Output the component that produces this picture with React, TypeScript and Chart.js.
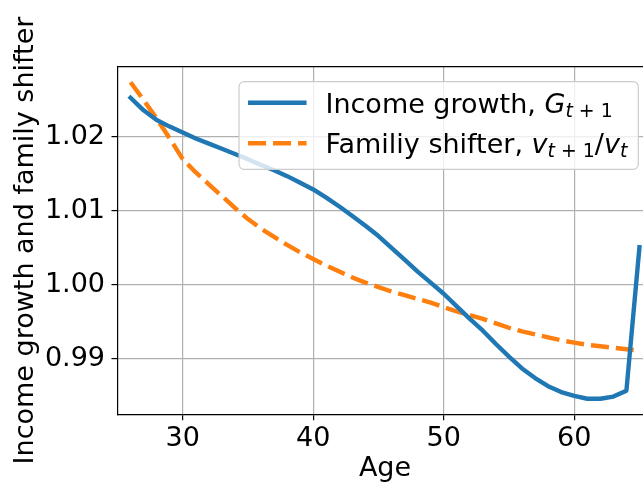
import React, { useEffect, useRef } from 'react';
import { Chart, registerables } from 'chart.js';

Chart.register(...registerables);

// ---- data ----
const ages = [
  26, 27, 28, 29, 30, 31, 32, 33, 34, 35,
  36, 37, 38, 39, 40, 41, 42, 43, 44, 45,
  46, 47, 48, 49, 50, 51, 52, 53, 54, 55,
  56, 57, 58, 59, 60, 61, 62, 63, 64, 65,
];
const incomeGrowth = [
  1.0253, 1.0236, 1.0223, 1.0214, 1.0206, 1.0198, 1.0191, 1.0184, 1.0177, 1.0170,
  1.0162, 1.0155, 1.0147, 1.0138, 1.0129, 1.0118, 1.0106, 1.0093, 1.0080, 1.0066,
  1.0050, 1.0034, 1.0018, 1.0003, 0.9988, 0.9971, 0.9954, 0.9938, 0.9920, 0.9903,
  0.9887, 0.9874, 0.9863, 0.9855, 0.9850, 0.9846, 0.9846, 0.9849, 0.9857, 1.0051,
];
const familyShifter = [
  1.0274, 1.0250, 1.0225, 1.0198, 1.0170, 1.0152, 1.0136, 1.0120, 1.0104, 1.0089,
  1.0076, 1.0065, 1.0054, 1.0044, 1.0035, 1.0026, 1.0018, 1.0010, 1.0003, 0.9997,
  0.9991, 0.9986, 0.9981, 0.9976, 0.9970, 0.9964, 0.9959, 0.9954, 0.9948, 0.9942,
  0.9937, 0.9933, 0.9929, 0.9925, 0.9922, 0.9919, 0.9917, 0.9915, 0.9913, 0.9911,
];
const xTicks = [30, 40, 50, 60];
const yTicks = [0.99, 1.0, 1.01, 1.02];
const xRange = [25, 66];
const yRange = [0.9825, 1.0295];
const xTitle = 'Age';
const yTitle = 'Income growth and family shifter';

type Part = [string, 'n' | 'i', boolean];
const incomeLabel: Part[] = [
  ['Income growth, ', 'n', false],
  ['G', 'i', false],
  ['t', 'i', true],
  [' + 1', 'n', true],
];
const familyLabel: Part[] = [
  ['Familiy shifter, ', 'n', false],
  ['v', 'i', false],
  ['t', 'i', true],
  [' + 1', 'n', true],
  ['/', 'n', false],
  ['v', 'i', false],
  ['t', 'i', true],
];

const BLUE = '#1f77b4';
const ORANGE = '#ff7f0e';
const FAM = '"DejaVu Sans", sans-serif';
const FS = 27;

const spinePlugin = {
  id: 'spines',
  afterDatasetsDraw(chart: any) {
    const { ctx, chartArea } = chart;
    ctx.save();
    ctx.strokeStyle = '#000';
    ctx.lineWidth = 1.2;
    ctx.beginPath();
    ctx.moveTo(chartArea.left, chartArea.top);
    ctx.lineTo(chartArea.right, chartArea.top);
    ctx.lineTo(chartArea.right, chartArea.bottom);
    ctx.stroke();
    ctx.restore();
  },
};

const legendPlugin = {
  id: 'mplLegend',
  afterDatasetsDraw(chart: any) {
    const { ctx, chartArea } = chart;
    const rows = [
      { color: BLUE, dash: [] as number[], parts: incomeLabel },
      { color: ORANGE, dash: [18, 7], parts: familyLabel },
    ];
    const fontFor = (p: Part) =>
      `${p[1] === 'i' ? 'italic ' : ''}${p[2] ? FS * 0.7 : FS}px ${FAM}`;
    ctx.save();
    let maxW = 0;
    for (const r of rows) {
      let w = 0;
      for (const p of r.parts) {
        ctx.font = fontFor(p);
        w += ctx.measureText(p[0]).width;
      }
      maxW = Math.max(maxW, w);
    }
    const textOffset = 86.4;
    const boxW = textOffset + maxW + 11;
    const boxH = 87.6;
    const boxR = chartArea.right - 14.2;
    const boxL = boxR - boxW;
    const boxT = chartArea.top + 15;

    ctx.beginPath();
    (ctx as any).roundRect(boxL, boxT, boxW, boxH, 5);
    ctx.fillStyle = 'rgba(255,255,255,0.8)';
    ctx.fill();
    ctx.strokeStyle = '#cccccc';
    ctx.lineWidth = 1.2;
    ctx.stroke();

    rows.forEach((r, i) => {
      const base = boxT + 31 + i * 40.6;
      const hy = base - 10;
      ctx.beginPath();
      ctx.setLineDash(r.dash);
      ctx.lineDashOffset = 0;
      ctx.strokeStyle = r.color;
      ctx.lineWidth = 4.4;
      ctx.lineCap = 'butt';
      ctx.moveTo(boxL + 9, hy);
      ctx.lineTo(boxL + 67.5, hy);
      ctx.stroke();
      ctx.setLineDash([]);

      let x = boxL + textOffset;
      ctx.fillStyle = '#000';
      ctx.textBaseline = 'alphabetic';
      ctx.textAlign = 'left';
      for (const p of r.parts) {
        ctx.font = fontFor(p);
        ctx.fillText(p[0], x, p[2] ? base + 4 : base);
        x += ctx.measureText(p[0]).width;
      }
    });
    ctx.restore();
  },
};

export default function App() {
  const ref = useRef<HTMLCanvasElement>(null);
  useEffect(() => {
    if (!ref.current) return;
    Chart.defaults.font.family = FAM;
    Chart.defaults.color = '#000';
    const chart = new Chart(ref.current, {
      type: 'line',
      data: {
        datasets: [
          {
            label: 'Income growth',
            data: ages.map((a, i) => ({ x: a, y: incomeGrowth[i] })),
            borderColor: BLUE,
            borderWidth: 4.4,
            pointRadius: 0,
            tension: 0,
            borderCapStyle: 'square',
            borderJoinStyle: 'round',
            fill: false,
          },
          {
            label: 'Familiy shifter',
            data: ages.map((a, i) => ({ x: a, y: familyShifter[i] })),
            borderColor: ORANGE,
            borderWidth: 4.4,
            borderDash: [18, 7],
            pointRadius: 0,
            tension: 0,
            borderCapStyle: 'butt',
            borderJoinStyle: 'round',
            fill: false,
          },
        ],
      },
      options: {
        responsive: false,
        animation: false,
        devicePixelRatio: 1,
        layout: { padding: { left: 0, top: 66.7, right: 17.5, bottom: 0 } },
        plugins: { legend: { display: false }, tooltip: { enabled: false } },
        scales: {
          x: {
            type: 'linear',
            min: xRange[0],
            max: xRange[1],
            afterBuildTicks: (s: any) => {
              s.ticks = xTicks.map((v) => ({ value: v }));
            },
            afterFit: (s: any) => {
              s.height = 71.7;
            },
            ticks: {
              font: { size: FS, family: FAM },
              color: '#000',
              padding: 2.8,
              maxRotation: 0,
              callback: (v: any) => String(v),
            },
            grid: {
              color: '#b0b0b0',
              lineWidth: 1.2,
              tickColor: '#000',
              tickLength: 6,
              tickWidth: 1.2,
            },
            border: { display: true, color: '#000', width: 1.2 },
            title: {
              display: true,
              text: xTitle,
              font: { size: FS, family: FAM, lineHeight: 1.2 },
              color: '#000',
              padding: { top: 0, bottom: 0.8 },
            },
          },
          y: {
            type: 'linear',
            min: yRange[0],
            max: yRange[1],
            afterBuildTicks: (s: any) => {
              s.ticks = yTicks.map((v) => ({ value: v }));
            },
            afterFit: (s: any) => {
              s.width = 117.5;
            },
            ticks: {
              font: { size: FS, family: FAM },
              color: '#000',
              padding: 6.5,
              callback: (v: any) => Number(v).toFixed(2),
            },
            grid: {
              color: '#b0b0b0',
              lineWidth: 1.2,
              tickColor: '#000',
              tickLength: 6,
              tickWidth: 1.2,
            },
            border: { display: true, color: '#000', width: 1.2 },
            title: {
              display: true,
              text: yTitle,
              font: { size: FS, family: FAM, lineHeight: 1.2 },
              color: '#000',
              padding: { top: 9.8, bottom: 0 },
            },
          },
        },
      },
      plugins: [spinePlugin, legendPlugin],
    } as any);
    return () => chart.destroy();
  }, []);

  return (
    <div
      style={{
        position: 'fixed',
        left: 0,
        top: 0,
        width: 643,
        height: 486,
        overflow: 'hidden',
        background: '#fff',
      }}
    >
      <canvas ref={ref} width={670} height={486} style={{ width: 670, height: 486, display: 'block' }} />
    </div>
  );
}
